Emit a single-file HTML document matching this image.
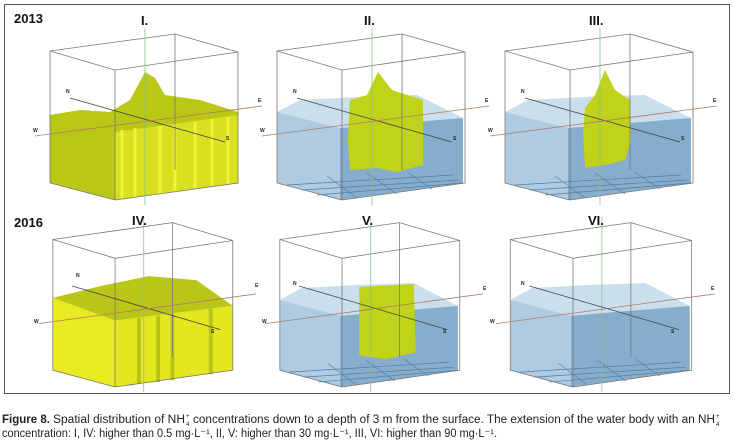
<!DOCTYPE html>
<html><head><meta charset="utf-8"><style>
html,body{margin:0;padding:0;background:#fff;}
svg{display:block;}
text{font-family:"Liberation Sans",sans-serif;}
</style></head><body>
<svg width="734" height="448" viewBox="0 0 734 448" xmlns="http://www.w3.org/2000/svg">
<defs>
  <g id="water">
    <polygon points="50,112 73,100 130,97 190,95 236,118 113,128" fill="#c9dfee"/>
    <polygon points="50,112 113,128 113,200 50,183" fill="#aecbe1"/>
    <polygon points="113,128 236,118 236,183 113,200" fill="#86adcc"/>
    <g stroke="#4f7fa6" stroke-width="0.7" fill="none">
      <line x1="60" y1="185" x2="226" y2="175"/>
      <line x1="75" y1="190" x2="232" y2="180"/>
      <line x1="90" y1="195" x2="236" y2="183"/>
      <line x1="100" y1="176" x2="130" y2="198"/>
      <line x1="140" y1="173" x2="170" y2="194"/>
      <line x1="180" y1="172" x2="205" y2="189"/>
    </g>
  </g>
  <g id="box" stroke="#777" stroke-width="0.8" fill="none">
    <polyline points="50,51 175,34 238,52 115,70 50,51 50,183 115,200 238,183 238,52"/>
    <line x1="115" y1="70" x2="115" y2="200"/>
    <line x1="175" y1="34" x2="175" y2="170"/>
    <line x1="145" y1="28" x2="145" y2="205" stroke="#8bc08b"/>
    <line x1="70" y1="98" x2="225" y2="142" stroke="#444"/>
    <line x1="35" y1="136" x2="262" y2="106" stroke="#b07a6a"/>
  </g>
</defs>
<rect x="4.5" y="4.5" width="725" height="389" fill="none" stroke="#555" stroke-width="1"/>

<g>
  <polygon points="50,115 80,110 110,112 130,100 145,72 155,78 165,95 200,100 238,112 238,183 115,200 50,183" fill="#b8c814"/>
  <polygon points="115,132 238,115 238,183 115,200" fill="#d8e020"/>
  <g stroke="#f2f23a" stroke-width="3">
    <line x1="122" y1="130" x2="122" y2="198"/><line x1="135" y1="128" x2="135" y2="197"/>
    <line x1="160" y1="126" x2="160" y2="194"/><line x1="175" y1="124" x2="175" y2="192"/>
    <line x1="195" y1="122" x2="195" y2="189"/><line x1="212" y1="119" x2="212" y2="187"/>
    <line x1="228" y1="117" x2="228" y2="185"/>
  </g>
  <use href="#box"/>
</g>
<g transform="translate(227,0)">
  <use href="#water"/>
  <polygon points="123,100 140,95 151,72 165,90 196,100 196,165 170,172 150,168 123,170 121,140" fill="#c0d21a"/>
  <use href="#box"/>
</g>
<g transform="translate(455,0)">
  <use href="#water"/>
  <polygon points="130,108 140,95 150,70 160,90 175,100 176,140 170,160 150,165 130,168 128,135" fill="#c0d21a"/>
  <use href="#box"/>
</g>
<g transform="translate(5,189) scale(0.957,0.99)">
  <polygon points="50,110 100,98 150,88 200,92 238,118 115,133" fill="#b9c618"/>
  <polygon points="50,110 115,133 115,200 50,183" fill="#eaea22"/>
  <polygon points="115,133 238,118 238,183 115,200" fill="#e4e620"/>
  <g stroke="#b5c415" stroke-width="4">
    <line x1="140" y1="130" x2="140" y2="197"/><line x1="160" y1="128" x2="160" y2="195"/>
    <line x1="175" y1="126" x2="175" y2="193"/><line x1="215" y1="121" x2="215" y2="187"/>
  </g>
  <use href="#box"/>
</g>
<g transform="translate(232,189) scale(0.957,0.99)">
  <use href="#water"/>
  <polygon points="133,99 190,96 192,165 160,172 133,168" fill="#c0d21a"/>
  <use href="#box"/>
</g>
<g transform="translate(462,189) scale(0.965,0.99)">
  <use href="#water"/>
  <use href="#box"/>
</g>

<g font-weight="bold" font-size="13" fill="#111">
  <text x="14" y="23">2013</text>
  <text x="14" y="227">2016</text>
  <text x="141" y="25">I.</text>
  <text x="364" y="25">II.</text>
  <text x="589" y="25">III.</text>
  <text x="132" y="225">IV.</text>
  <text x="362" y="225">V.</text>
  <text x="588" y="225">VI.</text>
</g>
<g font-size="5" font-weight="bold" fill="#222">
  <text x="66" y="93">N</text><text x="226" y="140">S</text><text x="33" y="132">W</text><text x="258" y="102">E</text>
  <text x="293" y="93">N</text><text x="453" y="140">S</text><text x="260" y="132">W</text><text x="485" y="102">E</text>
  <text x="521" y="93">N</text><text x="681" y="140">S</text><text x="488" y="132">W</text><text x="713" y="102">E</text>
  <text x="76" y="277">N</text><text x="211" y="333">S</text><text x="34" y="323">W</text><text x="255" y="287">E</text>
  <text x="293" y="285">N</text><text x="443" y="333">S</text><text x="262" y="323">W</text><text x="483" y="290">E</text>
  <text x="521" y="285">N</text><text x="671" y="333">S</text><text x="490" y="323">W</text><text x="711" y="290">E</text>
</g>
<g font-size="11.5" fill="#222">
  <text x="2" y="423" font-weight="bold" textLength="48" lengthAdjust="spacingAndGlyphs">Figure 8.</text>
  <text x="53" y="423" textLength="132" lengthAdjust="spacingAndGlyphs">Spatial distribution of NH</text>
  <text x="186" y="426" font-size="6">4</text>
  <text x="186" y="418" font-size="6">+</text>
  <text x="193" y="423" textLength="522" lengthAdjust="spacingAndGlyphs">concentrations down to a depth of 3 m from the surface. The extension of the water body with an NH</text>
  <text x="716" y="426" font-size="6">4</text>
  <text x="716" y="418" font-size="6">+</text>
  <text x="2" y="437" textLength="495" lengthAdjust="spacingAndGlyphs">concentration: I, IV: higher than 0.5 mg·L⁻¹, II, V: higher than 30 mg·L⁻¹, III, VI: higher than 90 mg·L⁻¹.</text>
</g>
</svg>
</body></html>
